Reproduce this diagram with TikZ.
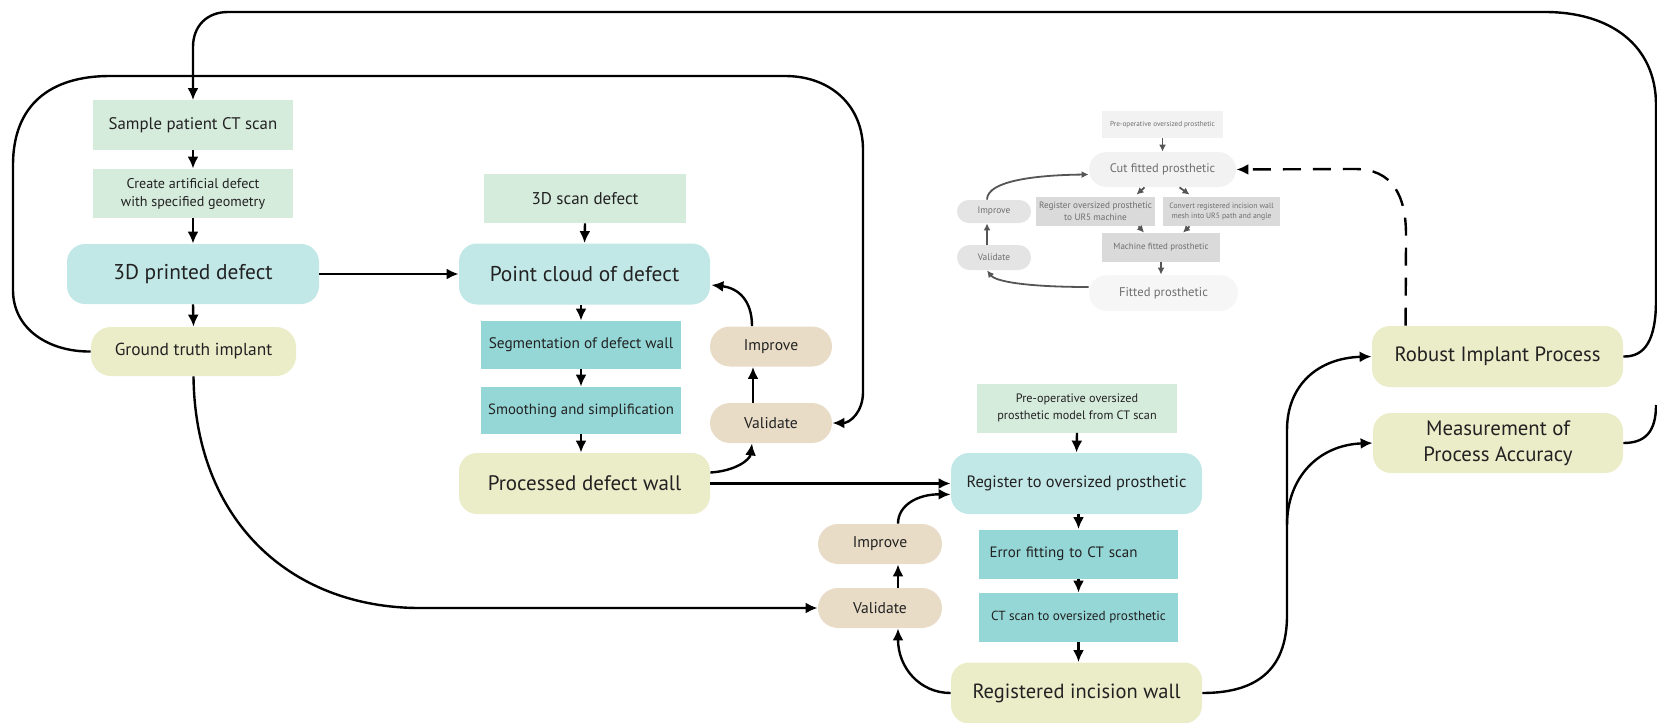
\documentclass[tikz,border=0pt]{standalone}
\usepackage{fontspec}
\setmainfont{PT Sans}
\usetikzlibrary{arrows.meta,calc}
\definecolor{cgreen}{HTML}{D5EBDC}
\definecolor{ccyan}{HTML}{C2E7E7}
\definecolor{cteal}{HTML}{95D6D6}
\definecolor{cyellow}{HTML}{EBEDC9}
\definecolor{cbeige}{HTML}{E8DCC7}
\definecolor{glight}{HTML}{F2F2F2}
\definecolor{gmid}{HTML}{DADADA}
\definecolor{gbtn}{HTML}{E4E4E4}
\definecolor{gfit}{HTML}{F6F6F6}
\definecolor{gtext}{HTML}{6E6E6E}
\definecolor{garrow}{HTML}{555555}
\definecolor{ctext}{HTML}{222222}
\newcommand\fsz[2]{\fontsize{#1}{#2}\selectfont}
\tikzset{
  box/.style={inner sep=0pt, align=center, text=ctext},
  rectbox/.style={box, minimum width=100pt, minimum height=24.5pt},
  greenbox/.style={rectbox, fill=cgreen},
  tealbox/.style={rectbox, fill=cteal},
  bigbox/.style={box, minimum width=125.5pt, minimum height=30.5pt, rounded corners=9pt},
  cyanbox/.style={bigbox, fill=ccyan},
  yelbox/.style={bigbox, fill=cyellow},
  pill/.style={box, fill=cbeige, minimum width=61pt, minimum height=20pt, rounded corners=10pt, font=\fsz{7.8}{9}},
  gbox/.style={inner sep=0pt, align=center, text=gtext},
  conn/.style={line width=1.2pt, -{Latex[length=6pt,width=5.5pt]}},
  line/.style={line width=1.2pt},
  gconn/.style={line width=0.9pt, draw=garrow, -{Latex[length=3.5pt,width=3.5pt]}},
}
\begin{document}
\begin{tikzpicture}[x=0.5pt,y=-0.5pt]
\useasboundingbox (0,0) rectangle (1657,722);

% ---------- column 1
\node[greenbox, font=\fsz{8.4}{10}] (sample) at (193,125) {Sample patient CT scan};
\node[greenbox, font=\fsz{7.05}{9}] (create) at (193,193.5) {Create artificial defect\\with specified geometry};
\node[cyanbox, minimum width=126pt, minimum height=30pt, font=\fsz{10.7}{13}] (printed) at (193,274) {3D printed defect};
\node[yelbox, minimum width=102.5pt, minimum height=24.5pt, rounded corners=10pt, font=\fsz{8.7}{11}] (ground) at (193.5,351.5) {Ground truth implant};

% ---------- column 2
\node[greenbox, minimum width=101pt, font=\fsz{8.5}{10}] (scan3d) at (585,198.5) {3D scan defect};
\node[cyanbox, font=\fsz{10.7}{12}] (cloud) at (584.5,274) {Point cloud of defect};
\node[tealbox, minimum height=24pt, font=\fsz{7.65}{9}] (seg) at (581,345) {Segmentation of defect wall};
\node[tealbox, minimum height=23.5pt, font=\fsz{7.4}{9}] (smooth) at (581,410.5) {Smoothing and simplification};
\node[yelbox, font=\fsz{10.5}{12}] (processed) at (584.5,483.5) {Processed defect wall};
\node[pill] (improveA) at (771,346.5) {Improve};
\node[pill] (validateA) at (771,423) {Validate};

% ---------- column 3
\node[greenbox, font=\fsz{6.1}{8.3}] (preop) at (1077,408) {Pre-operative oversized\\prosthetic model from CT scan};
\node[cyanbox, font=\fsz{8.2}{10}] (register) at (1076.5,483.5) {Register to oversized prosthetic};
\node[tealbox, minimum width=99.5pt, text width=89pt, align=left, font=\fsz{7.5}{9}] (error) at (1078.5,554) {Error fitting to CT scan};
\node[tealbox, minimum width=99.5pt, font=\fsz{6.6}{8}] (ctscan) at (1078.5,617.5) {CT scan to oversized prosthetic};
\node[yelbox, font=\fsz{10.25}{12}] (incision) at (1076.5,693) {Registered incision wall};
\node[pill, minimum width=62pt] (improveB) at (880,544) {Improve};
\node[pill, minimum width=62pt] (validateB) at (880,608) {Validate};

% ---------- right
\node[yelbox, font=\fsz{10.35}{12}] (robust) at (1497.5,356.5) {Robust Implant Process};
\node[yelbox, minimum width=125pt, minimum height=30pt, font=\fsz{10.4}{12.8}] (measure) at (1498,443) {Measurement of\\Process Accuracy};

% ---------- grey inset
\node[gbox, fill=glight, minimum width=60.5pt, minimum height=13.5pt, font=\fsz{3.6}{4}] (gpreop) at (1162.5,124.5) {Pre-operative oversized prosthetic};
\node[gbox, fill=glight, minimum width=73.5pt, minimum height=17.5pt, rounded corners=8.75pt, font=\fsz{6.2}{8}] (gcut) at (1162.5,169.5) {Cut fitted prosthetic};
\node[gbox, fill=gmid, minimum width=59.5pt, minimum height=14.5pt, font=\fsz{4.6}{5.8}] (greg) at (1095.5,211.5) {Register oversized prosthetic\\to UR5 machine};
\node[gbox, fill=gmid, minimum width=58.5pt, minimum height=14.5pt, font=\fsz{3.85}{4.7}] (gconv) at (1221.5,211.5) {Convert registered incision wall\\mesh into UR5 path and angle};
\node[gbox, fill=gmid, minimum width=59pt, minimum height=14.5pt, font=\fsz{4.45}{5}] (gmach) at (1161,247.5) {Machine fitted prosthetic};
\node[gbox, fill=gfit, minimum width=74.5pt, minimum height=18pt, rounded corners=9pt, font=\fsz{6.3}{8}] (gfitted) at (1163.5,293) {Fitted prosthetic};
\node[gbox, fill=gbtn, minimum width=37pt, minimum height=11.5pt, rounded corners=5.75pt, font=\fsz{4.7}{5}] (gimp) at (994,211.5) {Improve};
\node[gbox, fill=gbtn, minimum width=37pt, minimum height=12.5pt, rounded corners=6.25pt, font=\fsz{4.7}{5}] (gval) at (994,257.5) {Validate};

% ---------- connectors column 1
\draw[conn] (sample.south) -- (create.north);
\draw[conn] (create.south) -- (printed.north);
\draw[conn] (printed.south) -- (ground.north);
\draw[conn] (printed.east) -- (cloud.west);

% loop from ground truth to validate A
\draw[conn] (ground.west) .. controls (50,352) and (13,330) .. (13,290) -- (13,165)
  .. controls (13,105) and (50,76) .. (110,76) -- (785,76)
  .. controls (830,76) and (863,105) .. (863,150) -- (863,392)
  .. controls (863,412) and (850,423) .. (validateA.east);

% outer loop from robust back to sample
\draw[conn] (robust.east) .. controls (1645,357) and (1656,340) .. (1656,300) -- (1656,105)
  .. controls (1656,45) and (1610,12) .. (1545,12) -- (228,12)
  .. controls (207,12) and (193,26) .. (193,47) -- (sample.north);
\draw[line] (measure.east) .. controls (1645,443) and (1656,432) .. (1656,405);

% ---------- column 2
\draw[conn] (scan3d.south) -- (cloud.north);
\draw[conn] (cloud.south -| seg.north) -- (seg.north);
\draw[conn] (seg.south) -- (smooth.north);
\draw[conn] (smooth.south) -- (processed.north -| smooth.south);
\draw[conn] ($(processed.east)+(0,-11)$) .. controls (735,471) and (750,460) .. ($(validateA.south)+(-19,0)$);
\draw[conn] ($(validateA.north)+(-18,0)$) -- ($(improveA.south)+(-18,0)$);
\draw[conn] ($(improveA.north)+(-19,0)$) .. controls (752,300) and (738,288) .. ($(cloud.east)+(1,11)$);
\draw[conn] (processed.east) -- (register.west);

% ground truth to validate B
\draw[conn] (ground.south) .. controls (195,520) and (290,608) .. (420,608) -- (validateB.west);

% ---------- column 3
\draw[conn] (preop.south) -- (register.north);
\draw[conn] (register.south -| error.north) -- (error.north);
\draw[conn] (error.south) -- (ctscan.north);
\draw[conn] (ctscan.south) -- (incision.north -| ctscan.south);
\draw[conn] (incision.west) .. controls (920,693) and (898,668) .. ($(validateB.south)+(18,0)$);
\draw[conn] ($(validateB.north)+(18,0)$) -- ($(improveB.south)+(18,0)$);
\draw[conn] ($(improveB.north)+(18,0)$) .. controls (898,505) and (918,494) .. ($(register.west)+(0,11)$);

% to robust / measurement
\coordinate (branch) at (1287,525);
\draw[conn] (incision.east) .. controls (1262,693) and (1287,665) .. (1287,615) -- (1287,430)
  .. controls (1287,385) and (1318,358) .. (robust.west);
\draw[conn] (branch) .. controls (1287,478) and (1318,445) .. (measure.west);

% dashed feedback
\draw[line, dash pattern=on 9pt off 6pt, -{Latex[length=6pt,width=5.5pt]}] ($(robust.north west)+(34,0)$) -- (1406,235)
  .. controls (1406,195) and (1392,169) .. (1355,169) -- (gcut.east);

% ---------- grey inset connectors
\draw[gconn] (gpreop.south) -- (gcut.north);
\draw[gconn] ($(gcut.south)+(-18,0)$) -- ($(greg.north)+(41,-2)$);
\draw[gconn] ($(gcut.south)+(17,0)$) -- ($(gconv.north)+(-32,-2)$);
\draw[gconn] ($(greg.south)+(43,0)$) -- ($(gmach.north)+(-17,0)$);
\draw[gconn] ($(gconv.south)+(-32,0)$) -- ($(gmach.north)+(22,0)$);
\draw[gconn] (gmach.south) -- (gfitted.north -| gmach.south);
\draw[gconn] ($(gfitted.west)+(0,-6)$) .. controls (1030,287) and (996,282) .. ($(gval.south)+(-7,0)$);
\draw[gconn] ($(gval.north)+(-7,0)$) -- ($(gimp.south)+(-7,0)$);
\draw[gconn] ($(gimp.north)+(-7,0)$) .. controls (987,180) and (1040,175) .. ($(gcut.west)+(0,5)$);
\end{tikzpicture}
\end{document}
